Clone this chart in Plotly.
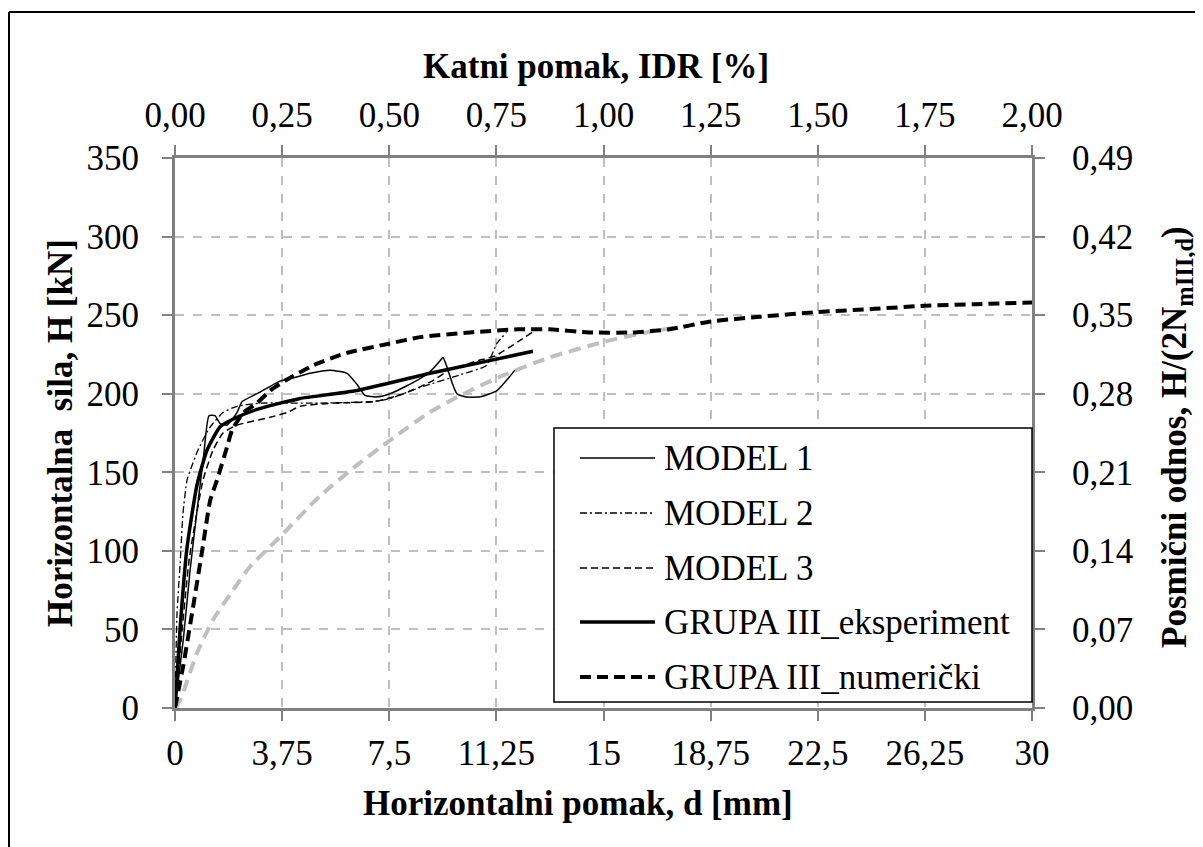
import plotly.graph_objects as go

# ---------------- data (d [mm], H [kN]) ----------------
m1_x = [0, 0.3, 0.53, 0.8, 1.0, 1.19, 1.4, 1.58, 1.82, 2.17, 2.35, 2.87, 3.68, 4.13, 4.73, 5.43, 6.02, 6.37, 6.65, 7.07, 7.53, 8.33, 8.93, 9.28, 9.38, 9.52, 9.7, 9.87, 10.15, 10.68, 11.27, 11.9]
m1_y = [0, 45, 88, 130, 160, 186, 186, 181, 180, 188, 195, 200, 208, 210, 213, 215, 213, 206, 199, 198, 200, 207, 214, 221, 223, 217, 207, 200, 198, 198, 202, 215]

m2_x = [0, 0.07, 0.18, 0.28, 0.42, 0.53, 0.8, 1.2, 1.68, 2.17, 3.0, 4.83, 6.93, 7.53, 8.58, 9.98, 10.9, 11.27, 11.6]
m2_y = [0, 60, 92, 124, 145, 151, 164, 178, 188, 192, 194, 194, 195, 197, 204, 212, 218, 232, 239]

m3_x = [0, 0.2, 0.5, 0.98, 1.33, 1.68, 2.17, 3.33, 3.92, 4.38, 5.5, 7.0, 8.0, 9.0, 9.6, 10.6, 11.2, 12.5]
m3_y = [0, 40, 95, 145, 164, 175, 180, 185, 188, 192, 194, 195, 200, 208, 215, 221, 224, 239]

exp_x = [0, 0.18, 0.42, 0.77, 1.12, 1.58, 2.17, 2.87, 3.68, 4.38, 6.37, 8.93, 12.53]
exp_y = [0, 51, 102, 142, 164, 179, 185, 190, 194, 197, 202, 213, 227]

num_x = [0, 0.28, 0.63, 0.95, 1.23, 1.47, 1.82, 2.0, 2.4, 2.87, 3.33, 3.92, 4.83, 6.02, 7.53, 8.58, 10.33, 12.0, 13.1, 14.5, 16.0, 17.3, 18.75, 20.5, 22.5, 24.5, 26.25, 28, 30]
num_y = [0, 26, 64, 100, 132, 145, 166, 177, 188, 194, 202, 209, 218, 226, 232, 236, 239, 241, 241, 239, 239, 241, 246, 249, 252, 254, 256, 257, 258]

gray_x = [0, 0.18, 0.77, 1.33, 2.03, 2.63, 3.68, 5.08, 6.4, 7.5, 8.9, 10.0, 11.4, 13.1, 15.0, 16.5, 17.5]
gray_y = [0, 5, 35, 56, 75, 90, 109, 135, 155, 170, 188, 199, 211, 223, 233, 239, 242]

x_ticks = [0, 3.75, 7.5, 11.25, 15, 18.75, 22.5, 26.25, 30]
x_ticktext = ["0", "3,75", "7,5", "11,25", "15", "18,75", "22,5", "26,25", "30"]
y_ticks = [0, 50, 100, 150, 200, 250, 300, 350]
x2_ticks = [0, 0.25, 0.5, 0.75, 1.0, 1.25, 1.5, 1.75, 2.0]
x2_ticktext = ["0,00", "0,25", "0,50", "0,75", "1,00", "1,25", "1,50", "1,75", "2,00"]
y2_ticks = [0, 0.07, 0.14, 0.21, 0.28, 0.35, 0.42, 0.49]
y2_ticktext = ["0,00", "0,07", "0,14", "0,21", "0,28", "0,35", "0,42", "0,49"]

legend_names = ["MODEL 1", "MODEL 2", "MODEL 3", "GRUPA III_eksperiment", "GRUPA III_numerički"]
title_bottom = "Horizontalni pomak, d [mm]"
title_left = "Horizontalna  sila, H [kN]"
title_top = "Katni pomak, IDR [%]"
title_right = "Posmični odnos, H/(2N<sub>mIII,d</sub>)"

FONT = "Liberation Serif"
AX = "#808080"
GRID = "#bfbfbf"

styles = [
    dict(color="black", width=1.5, dash="solid"),
    dict(color="black", width=1.3, dash="7px,3px,2px,3px"),
    dict(color="black", width=1.5, dash="7px,4px"),
    dict(color="black", width=3.5, dash="solid"),
    dict(color="black", width=4, dash="11px,6px"),
]

fig = go.Figure()
fig.add_trace(go.Scatter(x=gray_x, y=gray_y, mode="lines", showlegend=False,
                         line=dict(color=GRID, width=4, dash="12px,7px", shape="spline", smoothing=0.6)))
series = [(m1_x, m1_y), (m2_x, m2_y), (m3_x, m3_y), (exp_x, exp_y), (num_x, num_y)]
for (xs, ys), st, nm in zip(series, styles, legend_names):
    fig.add_trace(go.Scatter(x=xs, y=ys, mode="lines", name=nm, showlegend=False,
                             line=dict(shape="spline", smoothing=0.5, **st)))
# invisible trace to activate secondary axes
fig.add_trace(go.Scatter(x=[0, 2], y=[0, 0.49], xaxis="x2", yaxis="y2", mode="lines",
                         line=dict(width=0), hoverinfo="skip", showlegend=False))

tickfont = dict(family=FONT, size=35, color="black")
titlefont = dict(family=FONT, size=35, color="black", weight="bold")

common = dict(showline=True, linecolor=AX, linewidth=3, ticks="outside", ticklen=10,
              tickcolor=AX, tickwidth=2, zeroline=False, tickfont=tickfont)

# page is offset by the 8px body margin: figure is 1195x839 so plot area sits at
# page x 175..1032, y 158..708
fig.update_layout(
    width=1195, height=839,
    margin=dict(l=167, r=171, t=150, b=139),
    paper_bgcolor="white", plot_bgcolor="white",
    showlegend=False,
    xaxis=dict(range=[0, 30], tickvals=x_ticks, ticktext=x_ticktext,
               showgrid=True, gridcolor=GRID, gridwidth=1.5, griddash="dash",
               ticklabelstandoff=2, **common),
    yaxis=dict(range=[0, 350], tickvals=y_ticks,
               showgrid=True, gridcolor=GRID, gridwidth=1.5, griddash="dash",
               ticklabelstandoff=16, **common),
    xaxis2=dict(range=[0, 2], overlaying="x", side="top", anchor="y", tickvals=x2_ticks,
                ticktext=x2_ticktext, showgrid=False, ticklabelstandoff=4, **common),
    yaxis2=dict(range=[0, 0.49], overlaying="y", side="right", anchor="x", tickvals=y2_ticks,
                ticktext=y2_ticktext, showgrid=False, ticklabelstandoff=20, **common),
)

def px(xp):
    return (xp - 175) / 857.0

def py(yp):
    return (708 - yp) / 550.0

shapes = []
annotations = []
# outer frame (left and top edges)
shapes.append(dict(type="line", xref="paper", yref="paper", x0=px(9), x1=px(9), y0=py(860), y1=py(12),
                   line=dict(color="black", width=2)))
shapes.append(dict(type="line", xref="paper", yref="paper", x0=px(9), x1=px(1210), y0=py(12), y1=py(12),
                   line=dict(color="black", width=2)))

# axis titles
annotations.append(dict(xref="paper", yref="paper", x=px(596), y=py(66), text=title_top, showarrow=False,
                        xanchor="center", yanchor="middle", font=titlefont))
annotations.append(dict(xref="paper", yref="paper", x=px(578), y=py(803), text=title_bottom, showarrow=False,
                        xanchor="center", yanchor="middle", font=titlefont))
annotations.append(dict(xref="paper", yref="paper", x=px(60), y=py(433), text=title_left, showarrow=False,
                        textangle=-90, xanchor="center", yanchor="middle", font=titlefont))
annotations.append(dict(xref="paper", yref="paper", x=px(1176), y=py(437), text=title_right, showarrow=False,
                        textangle=-90, xanchor="center", yanchor="middle", font=titlefont))

# legend box
shapes.append(dict(type="rect", xref="paper", yref="paper", x0=px(554), x1=1.0, y0=py(702), y1=py(428),
                   line=dict(color="black", width=1.5), fillcolor="white", layer="above"))
entry_y = [458, 513, 568, 622, 677]
for yy, st, nm in zip(entry_y, styles, legend_names):
    shapes.append(dict(type="line", xref="paper", yref="paper", x0=px(580), x1=px(655), y0=py(yy), y1=py(yy),
                       line=dict(color=st["color"], width=st["width"], dash=st["dash"]), layer="above"))
    annotations.append(dict(xref="paper", yref="paper", x=px(662), y=py(yy), xanchor="left", yanchor="middle",
                            text=nm, showarrow=False, font=dict(family=FONT, size=35, color="black")))
fig.update_layout(shapes=shapes, annotations=annotations)

fig.write_html("out.html")
